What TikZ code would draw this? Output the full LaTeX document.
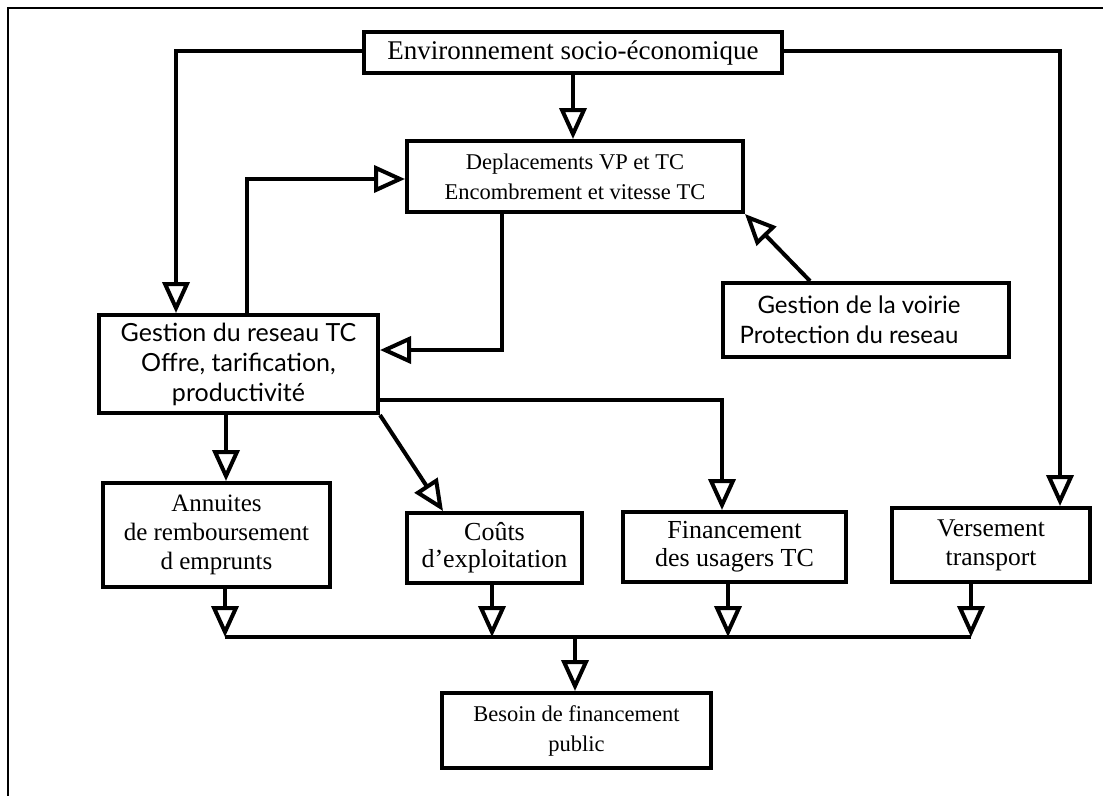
\documentclass[tikz,border=0pt]{standalone}
\usepackage{fontspec}
\setmainfont{Liberation Serif}
\newfontfamily\optfont{Lato}
\usetikzlibrary{arrows.meta,calc}
\begin{document}
\begin{tikzpicture}[x=1pt,y=-1pt,
  box/.style={draw, line width=4pt, inner sep=0pt, align=center},
  arr/.style={line width=4pt, line join=miter, -{Triangle[open, length=31pt, width=27pt]}},
  ln/.style={line width=4pt},
  frm/.style={line width=2pt}]
\useasboundingbox (0,0) rectangle (1103,796);
\fill[white] (0,0) rectangle (1103,796);
% frame
\coordinate (f1) at (1103,8);
\coordinate (f2) at (8,8);
\coordinate (f3) at (8,796);
\draw[frm] (f1) -- (f2) -- (f3);
% boxes
\node[box, minimum width=418pt, minimum height=41pt, font=\fontsize{27}{30}\selectfont] (env) at (573,52.5) {Environnement socio-économique};
\node[box, minimum width=336pt, minimum height=71pt, font=\fontsize{22.5}{30}\selectfont] (dep) at (575,176.5) {Deplacements VP et TC\\Encombrement et vitesse TC};
\node[box, minimum width=286pt, minimum height=74pt, font=\optfont\fontsize{24}{30}\selectfont] (voi) at (866,320) {Gestion de la voirie\hspace*{14pt}\\Protection du reseau\hspace*{34pt}};
\node[box, minimum width=279pt, minimum height=98pt, font=\optfont\fontsize{25}{30}\selectfont] (gtc) at (238.5,364) {Gestion du reseau TC\\Offre, tarification,\\productivité};
\node[box, minimum width=227pt, minimum height=104pt, font=\fontsize{25}{29}\selectfont] (ann) at (216.5,535) {Annuites\\de remboursement\\d emprunts};
\node[box, minimum width=175pt, minimum height=70pt, font=\fontsize{26}{27}\selectfont] (cou) at (494.5,548) {Coûts\\d'exploitation};
\node[box, minimum width=223pt, minimum height=70pt, font=\fontsize{26}{28}\selectfont] (fin) at (734.5,547) {Financement\\des usagers TC};
\node[box, minimum width=198pt, minimum height=74pt, font=\fontsize{25.5}{29}\selectfont] (ver) at (991,545) {Versement\\transport};
\node[box, minimum width=269pt, minimum height=75pt, font=\fontsize{22.5}{30}\selectfont] (bes) at (576.5,730.5) {Besoin de financement\\public};
% helper coordinates
\coordinate (c1) at (176,51);
\coordinate (c2) at (1060,51);
\coordinate (c3) at (247,179);
\coordinate (c4) at (502,350);
\coordinate (c6) at (226,450);
\coordinate (c7) at (722,400);
\coordinate (b1) at (225,637);
\coordinate (b2) at (492,637);
\coordinate (b3) at (728,637);
\coordinate (b4) at (971,637);
\coordinate (b5) at (575,637);
% connectors
\draw[arr] (env.west |- c1) -| (gtc.north -| c1);
\draw[arr] (env.east |- c2) -| (ver.north -| c2);
\draw[arr] (env.south) -- (env.south |- dep.north);
\draw[arr] (gtc.north -| c3) |- (dep.west |- c3);
\draw[arr] (dep.south -| c4) |- (gtc.east |- c4);
\draw[arr] ($(voi.north west)+(89,0)$) -- (dep.south east);
\draw[arr] (gtc.south -| c6) -- (ann.north -| c6);
\draw[arr] (gtc.south east) -- ($(cou.north west)+(38,0)$);
\draw[arr] (gtc.east |- c7) -| (fin.north -| c7);
% bus
\draw[ln] (b1) -- (b4);
\draw[arr] (ann.south -| b1) -- (b1);
\draw[arr] (cou.south -| b2) -- (b2);
\draw[arr] (fin.south -| b3) -- (b3);
\draw[arr] (ver.south -| b4) -- (b4);
\draw[arr] (b5) -- (bes.north -| b5);
\end{tikzpicture}
\end{document}
